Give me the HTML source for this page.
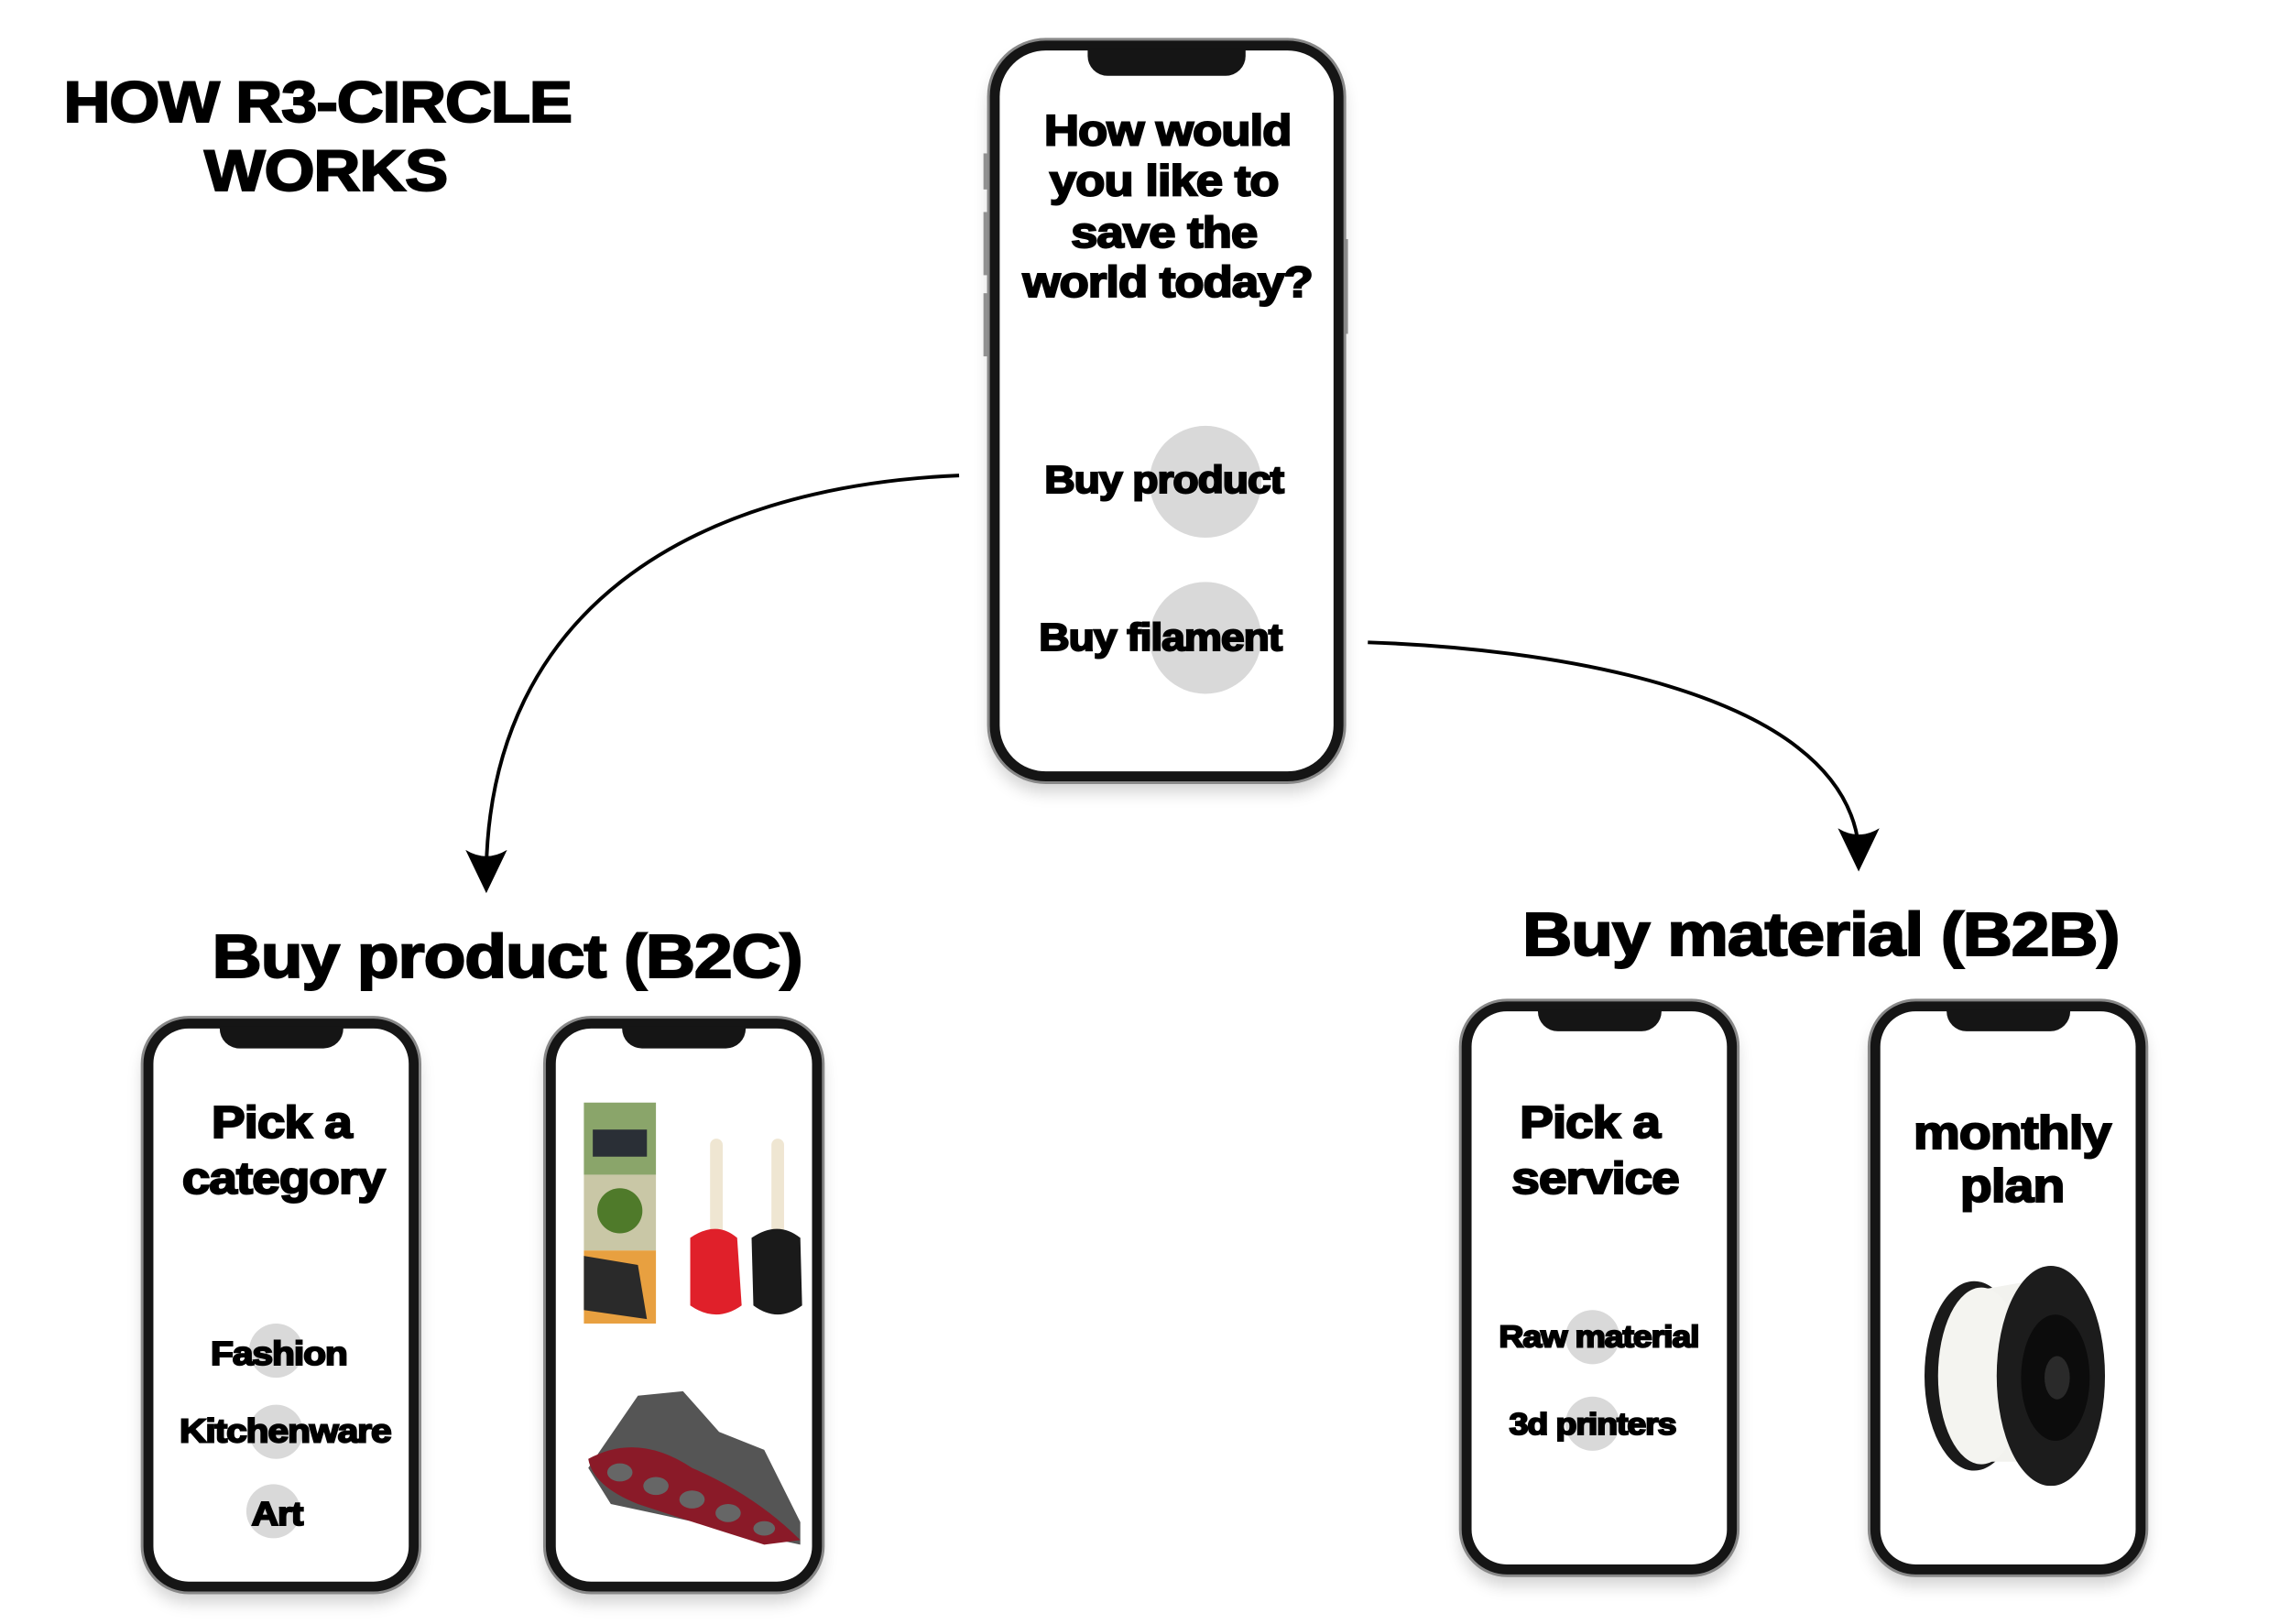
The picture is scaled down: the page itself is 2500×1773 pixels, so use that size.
<!DOCTYPE html>
<html><head><meta charset="utf-8"><style>
html,body{margin:0;padding:0;background:#fff;}
body{width:2500px;height:1769px;position:relative;overflow:hidden;font-family:"Liberation Sans",Arial,sans-serif;}
#w{position:absolute;left:0;top:0;width:2540px;height:1800px;transform:scale(0.985);transform-origin:0 0;}
.t{position:absolute;white-space:nowrap;font-weight:bold;color:#000;transform:translate(-50%,-50%) scaleX(1.12);-webkit-text-stroke:2px #000;letter-spacing:-1px;line-height:1;}
.phone{position:absolute;box-sizing:border-box;border:11px solid #151515;border-radius:62px;background:#fff;box-shadow:0 0 0 3px #888,0 12px 18px rgba(0,0,0,0.18);}
.notch{position:absolute;top:-2px;left:50%;transform:translateX(-50%);background:#151515;border-radius:0 0 22px 22px;}
.circ{position:absolute;border-radius:50%;background:#d9d9d9;transform:translate(-50%,-50%);}
.btn{position:absolute;width:4px;background:#999;}
</style></head><body><div id="w">

<div class="t" style="left:352px;top:113px;font-size:64px;">HOW R3-CIRCLE</div>
<div class="t" style="left:361px;top:189px;font-size:64px;">WORKS</div>

<div class="btn" style="left:1090px;top:170px;height:40px"></div>
<div class="btn" style="left:1090px;top:235px;height:70px"></div>
<div class="btn" style="left:1090px;top:325px;height:70px"></div>
<div class="btn" style="left:1490px;top:265px;height:105px"></div>
<div class="phone" style="left:1097px;top:45px;width:392px;height:821px;">
  <div class="notch" style="width:175px;height:30px;"></div>
</div>
<div class="circ" style="left:1336px;top:534px;width:124px;height:124px;"></div>
<div class="circ" style="left:1336px;top:707px;width:124px;height:124px;"></div>
<div class="t" style="left:1294px;top:146px;font-size:48px;">How would</div>
<div class="t" style="left:1290px;top:202px;font-size:48px;">you like to</div>
<div class="t" style="left:1290px;top:259px;font-size:48px;">save the</div>
<div class="t" style="left:1294px;top:314px;font-size:48px;">world today?</div>
<div class="t" style="left:1290px;top:532px;font-size:42px;">Buy product</div>
<div class="t" style="left:1286px;top:707px;font-size:42px;">Buy filament</div>

<svg style="position:absolute;left:0;top:0" width="2540" height="1800">
  <path d="M1063 527 C760 540 545 680 539 962" fill="none" stroke="#000" stroke-width="4"/>
  <path d="M516 942 L539 990 L562 942 Q539 956 516 942 Z" fill="#000"/>
  <path d="M1516 712 C1700 718 2040 760 2060 938" fill="none" stroke="#000" stroke-width="4"/>
  <path d="M2037 918 L2060 966 L2083 918 Q2060 932 2037 918 Z" fill="#000"/>
</svg>

<div class="t" style="left:562px;top:1060px;font-size:68px;">Buy product (B2C)</div>
<div class="t" style="left:2018px;top:1036px;font-size:68px;">Buy material (B2B)</div>

<div class="phone" style="left:159px;top:1129px;width:305px;height:635px;border-radius:50px;">
  <div class="notch" style="width:137px;height:24px;"></div>
</div>
<div class="circ" style="left:306px;top:1497px;width:60px;height:60px;"></div>
<div class="circ" style="left:306px;top:1587px;width:60px;height:60px;"></div>
<div class="circ" style="left:303px;top:1675px;width:60px;height:60px;"></div>
<div class="t" style="left:312px;top:1244px;font-size:50px;">Pick a</div>
<div class="t" style="left:314px;top:1306px;font-size:50px;">category</div>
<div class="t" style="left:309px;top:1500px;font-size:37px;">Fashion</div>
<div class="t" style="left:316px;top:1586px;font-size:37px;">Kitchenware</div>
<div class="t" style="left:307px;top:1678px;font-size:37px;">Art</div>

<div class="phone" style="left:605px;top:1129px;width:306px;height:635px;border-radius:50px;">
  <div class="notch" style="width:137px;height:24px;"></div>
</div>
<svg style="position:absolute;left:647px;top:1222px" width="260" height="245">
  <rect x="0" y="0" width="80" height="80" fill="#8aa56a"/>
  <rect x="10" y="30" width="60" height="30" fill="#2a2f36"/>
  <rect x="0" y="80" width="80" height="84" fill="#c9c7a6"/>
  <circle cx="40" cy="120" r="25" fill="#4f7a2a"/>
  <rect x="0" y="164" width="80" height="81" fill="#e8a040"/>
  <path d="M0 170 L60 180 L70 240 L0 230Z" fill="#2a2a2a"/>
  <rect x="140" y="40" width="14" height="110" rx="7" fill="#efe6d2"/>
  <path d="M118 150 Q147 130 170 150 L175 225 Q147 245 118 225 Z" fill="#e0202a"/>
  <rect x="208" y="40" width="14" height="110" rx="7" fill="#efe6d2"/>
  <path d="M186 150 Q215 130 240 150 L242 225 Q215 245 188 225 Z" fill="#1a1a1a"/>
</svg>
<svg style="position:absolute;left:647px;top:1537px" width="250" height="180">
  <path d="M60 10 L110 5 L150 50 L200 70 L240 150 L240 175 L30 130 L5 90 Z" fill="#555"/>
  <path d="M5 80 Q60 50 120 90 Q190 120 240 170 L200 175 Q120 150 60 130 Q10 110 5 80Z" fill="#8a1a28"/>
  <g fill="#666"><ellipse cx="40" cy="95" rx="14" ry="10"/><ellipse cx="80" cy="110" rx="14" ry="10"/><ellipse cx="120" cy="125" rx="14" ry="10"/><ellipse cx="160" cy="140" rx="14" ry="10"/><ellipse cx="200" cy="157" rx="12" ry="8"/></g>
</svg>

<div class="phone" style="left:1620px;top:1110px;width:305px;height:635px;border-radius:50px;">
  <div class="notch" style="width:137px;height:24px;"></div>
</div>
<div class="circ" style="left:1765px;top:1482px;width:60px;height:60px;"></div>
<div class="circ" style="left:1765px;top:1578px;width:60px;height:60px;"></div>
<div class="t" style="left:1762px;top:1244px;font-size:50px;">Pick a</div>
<div class="t" style="left:1768px;top:1306px;font-size:50px;">service</div>
<div class="t" style="left:1772px;top:1482px;font-size:34px;">Raw material</div>
<div class="t" style="left:1765px;top:1579px;font-size:34px;">3d printers</div>

<div class="phone" style="left:2073px;top:1110px;width:305px;height:635px;border-radius:50px;">
  <div class="notch" style="width:137px;height:24px;"></div>
</div>
<div class="t" style="left:2230px;top:1256px;font-size:52px;">monthly</div>
<div class="t" style="left:2230px;top:1315px;font-size:52px;">plan</div>
<svg style="position:absolute;left:2118px;top:1385px" width="220" height="262">
  <ellipse cx="70" cy="140" rx="55" ry="105" fill="#1a1a1a"/>
  <path d="M75 45 L160 30 L165 235 L80 235 Z" fill="#f2f2ee"/>
  <ellipse cx="78" cy="140" rx="48" ry="98" fill="#f4f4f0"/>
  <ellipse cx="155" cy="140" rx="60" ry="122" fill="#1c1c1c"/>
  <ellipse cx="160" cy="142" rx="38" ry="70" fill="#0c0c0c"/>
  <ellipse cx="162" cy="142" rx="14" ry="24" fill="#2a2a2a"/>
</svg>

</div></body></html>
